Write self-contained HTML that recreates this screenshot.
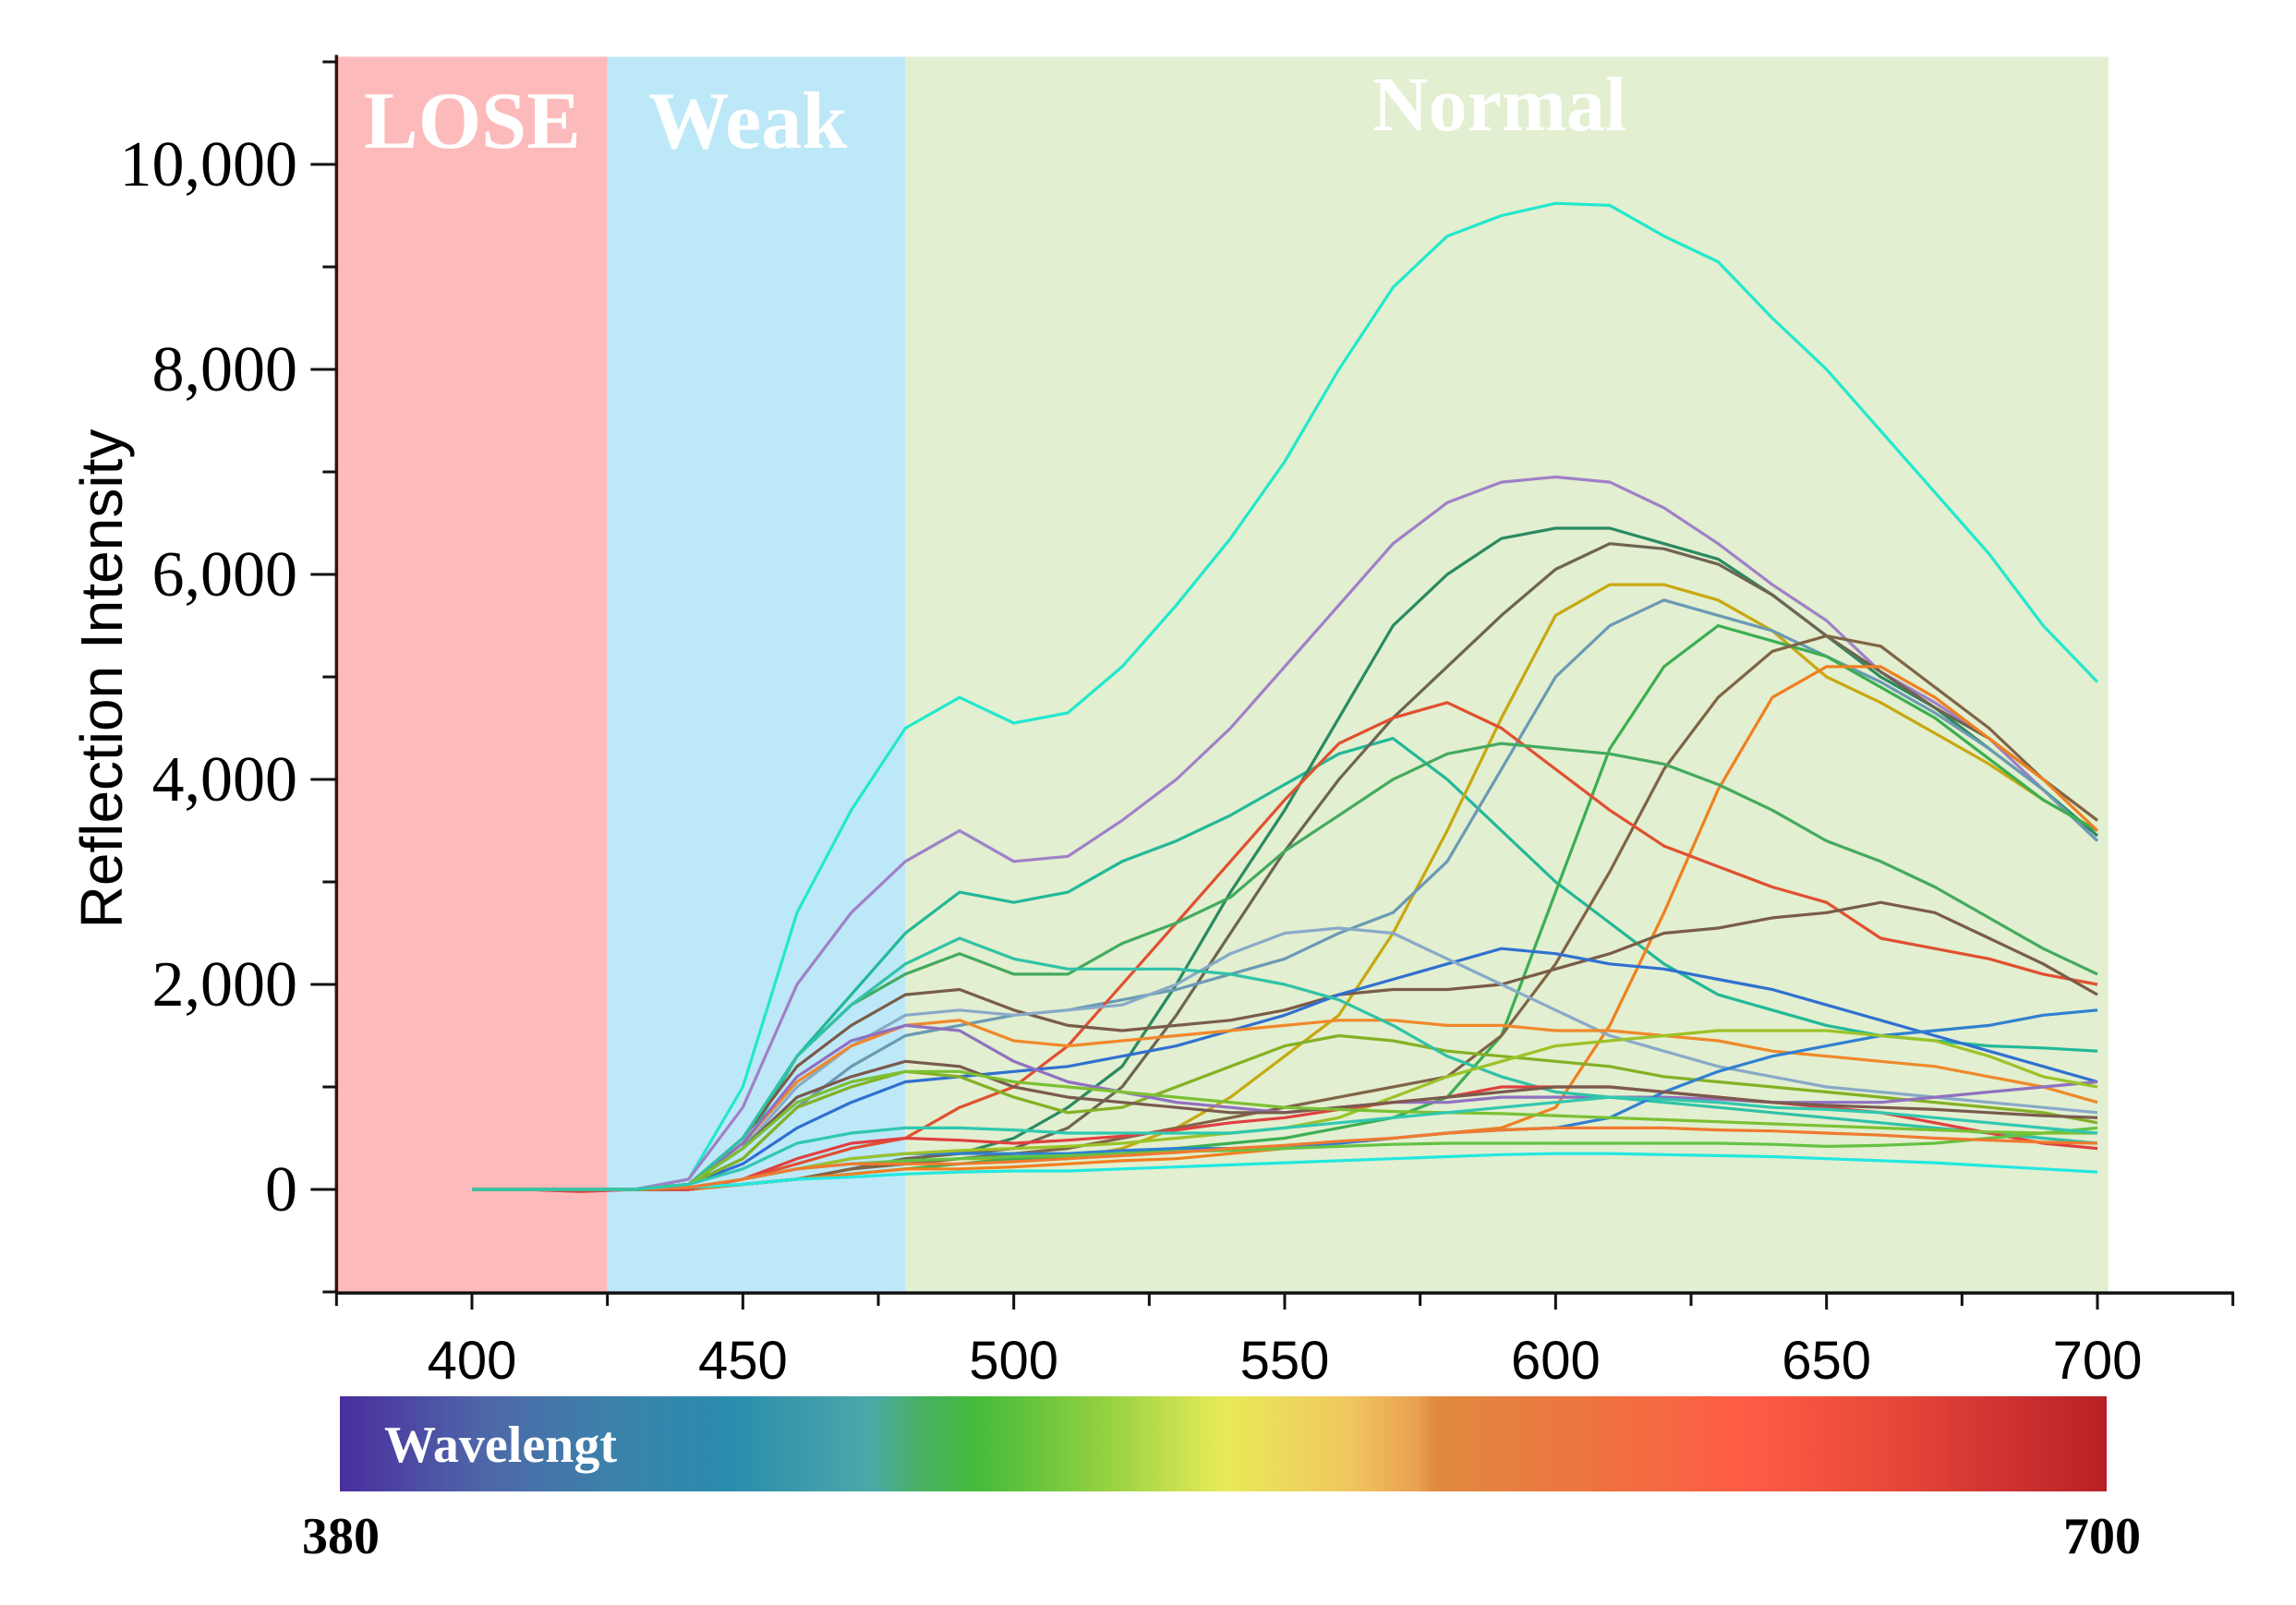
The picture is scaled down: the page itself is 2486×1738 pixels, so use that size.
<!DOCTYPE html>
<html><head><meta charset="utf-8"><style>
html,body{margin:0;padding:0;background:#fff;}
svg{display:block;}
</style></head><body>
<svg id="chart" width="2486" height="1738" viewBox="0 0 2486 1738" xmlns="http://www.w3.org/2000/svg">
<defs>
<linearGradient id="spec" x1="0" x2="1" y1="0" y2="0">
<stop offset="0" stop-color="#4a2d9e"/><stop offset="0.08" stop-color="#4e66a8"/><stop offset="0.16" stop-color="#3a84aa"/>
<stop offset="0.22" stop-color="#2a8cae"/><stop offset="0.30" stop-color="#4ba8a8"/><stop offset="0.33" stop-color="#48b060"/>
<stop offset="0.36" stop-color="#44bb3a"/><stop offset="0.43" stop-color="#90d040"/><stop offset="0.50" stop-color="#e8ea58"/>
<stop offset="0.57" stop-color="#f0c860"/><stop offset="0.61" stop-color="#eaa050"/><stop offset="0.62" stop-color="#e08a40"/>
<stop offset="0.72" stop-color="#f07040"/><stop offset="0.80" stop-color="#ff5a45"/><stop offset="0.87" stop-color="#ea4a3a"/>
<stop offset="0.95" stop-color="#cc3030"/><stop offset="1" stop-color="#b82025"/>
</linearGradient>
</defs>
<g id="bands"></g>
<g id="lines"></g>
<g id="axes"></g>
<text x="0" y="0" transform="translate(132,735) rotate(-90)" text-anchor="middle" font-family="Liberation Sans, sans-serif" font-size="64" fill="#000">Reflection Intensity</text>
<rect x="368" y="1512" width="1913" height="103" fill="url(#spec)"/>
<text x="416" y="1583" font-family="Liberation Serif, serif" font-weight="bold" font-size="56" fill="#fff">Wavelengt</text>
<text x="369" y="1682" text-anchor="middle" font-family="Liberation Serif, serif" font-weight="bold" font-size="56" fill="#000">380</text>
<text x="2276" y="1682" text-anchor="middle" font-family="Liberation Serif, serif" font-weight="bold" font-size="56" fill="#000">700</text>
</svg>
<script>
const wavelengths = [400,410,420,430,440,450,460,470,480,490,500,510,520,530,540,550,560,570,580,590,600,610,620,630,640,650,660,670,680,690,700];
const yTicks = [0,2,4,6,8,10];
const yTickLabels = ["0","2,000","4,000","6,000","8,000","10,000"];
const xTicks = [400,450,500,550,600,650,700];
const bandStarts = [375,425,480];
const bandEnds = [425,480,702];
const bandNames = ["LOSE","Weak","Normal"];
const bandColors = ["#fdbaba","#bde8f8","#e2efd0"];
const seriesColors = ["#22e8cc","#a080c8","#22b898","#2a8a60","#6e6452","#c8a810","#6a9ab4","#3cae52","#806446","#f08020","#e05030","#44aa5e","#7a5c48","#3070d0","#88aac8","#f0882a","#84b024","#9070c0","#30c2a8","#3080d0","#9cc228","#e04040","#22e8e0","#64c244","#f07a30","#7a5a4e","#7cc034","#30c8b0"];
const s1=[0,0,0,0,0.1,1.0,2.7,3.7,4.5,4.8,4.55,4.65,5.1,5.7,6.35,7.1,8.0,8.8,9.3,9.5,9.62,9.6,9.3,9.05,8.5,8.0,7.4,6.8,6.2,5.5,4.95];
const s2=[0,0,0,0,0.1,0.8,2.0,2.7,3.2,3.5,3.2,3.25,3.6,4.0,4.5,5.1,5.7,6.3,6.7,6.9,6.95,6.9,6.65,6.3,5.9,5.55,5.05,4.75,4.4,3.9,3.4];
const s3=[0,0,0,0,0.05,0.4,1.3,1.9,2.5,2.9,2.8,2.9,3.2,3.4,3.65,3.95,4.25,4.4,4.0,3.5,3.0,2.6,2.2,1.9,1.75,1.6,1.5,1.45,1.4,1.38,1.35];
const s4=[0,0,0,0,0,0.05,0.1,0.2,0.3,0.35,0.5,0.8,1.2,2.0,2.9,3.7,4.6,5.5,6.0,6.35,6.45,6.45,6.3,6.15,5.8,5.4,5.0,4.7,4.3,3.9,3.45];
const s5=[0,0,0,0,0,0.05,0.1,0.2,0.3,0.35,0.4,0.6,1.0,1.7,2.5,3.3,4.0,4.6,5.1,5.6,6.05,6.3,6.25,6.1,5.8,5.4,5.05,4.7,4.4,4.0,3.6];
const s6=[0,0,0,0,0,0.05,0.1,0.2,0.25,0.3,0.3,0.3,0.4,0.6,0.9,1.3,1.7,2.5,3.5,4.6,5.6,5.9,5.9,5.75,5.45,5.0,4.75,4.45,4.15,3.8,3.5];
const s7=[0,0,0,0,0.05,0.3,0.8,1.2,1.5,1.6,1.7,1.75,1.85,1.95,2.1,2.25,2.5,2.7,3.2,4.1,5.0,5.5,5.75,5.6,5.45,5.2,4.95,4.65,4.3,3.9,3.4];
const s8=[0,0,0,0,0,0.05,0.1,0.15,0.2,0.25,0.3,0.3,0.35,0.4,0.45,0.5,0.6,0.7,0.9,1.5,2.9,4.3,5.1,5.5,5.35,5.2,4.9,4.6,4.2,3.8,3.5];
const s9=[0,0,0,0,0,0.05,0.1,0.2,0.25,0.3,0.35,0.4,0.5,0.6,0.7,0.8,0.9,1.0,1.1,1.5,2.2,3.1,4.1,4.8,5.25,5.4,5.3,4.9,4.5,4.0,3.6];
const s10=[0,0,0,0,0,0.05,0.1,0.15,0.2,0.2,0.22,0.25,0.28,0.3,0.35,0.4,0.45,0.5,0.55,0.6,0.8,1.6,2.7,3.9,4.8,5.1,5.1,4.8,4.4,4.0,3.5];
const s11=[0,0,-0.02,0,0,0.1,0.25,0.4,0.5,0.8,1.0,1.4,2.0,2.6,3.2,3.8,4.35,4.6,4.75,4.5,4.1,3.7,3.35,3.15,2.95,2.8,2.45,2.35,2.25,2.1,2.0];
const s12=[0,0,0,0,0.05,0.5,1.3,1.8,2.1,2.3,2.1,2.1,2.4,2.6,2.85,3.3,3.65,4.0,4.25,4.35,4.3,4.25,4.15,3.95,3.7,3.4,3.2,2.95,2.65,2.35,2.1];
const s13=[0,0,0,0,0.05,0.5,1.2,1.6,1.9,1.95,1.75,1.6,1.55,1.6,1.65,1.75,1.9,1.95,1.95,2.0,2.15,2.3,2.5,2.55,2.65,2.7,2.8,2.7,2.45,2.2,1.9];
const s14=[0,0,0,0,0.05,0.25,0.6,0.85,1.05,1.1,1.15,1.2,1.3,1.4,1.55,1.7,1.9,2.05,2.2,2.35,2.3,2.2,2.15,2.05,1.95,1.8,1.65,1.5,1.35,1.2,1.05];
const s15=[0,0,0,0,0.05,0.4,1.0,1.4,1.7,1.75,1.7,1.75,1.8,2.0,2.3,2.5,2.55,2.5,2.25,2.0,1.75,1.5,1.35,1.2,1.1,1.0,0.95,0.9,0.85,0.8,0.75];
const s16=[0,0,0,0,0.05,0.45,1.05,1.4,1.6,1.65,1.45,1.4,1.45,1.5,1.55,1.6,1.65,1.65,1.6,1.6,1.55,1.55,1.5,1.45,1.35,1.3,1.25,1.2,1.1,1.0,0.85];
const s17=[0,0,0,0,0.05,0.3,0.8,1.0,1.15,1.1,0.9,0.75,0.8,1.0,1.2,1.4,1.5,1.45,1.35,1.3,1.25,1.2,1.1,1.05,1.0,0.95,0.9,0.85,0.8,0.75,0.65];
const s18=[0,0,0,0,0.05,0.45,1.1,1.45,1.6,1.55,1.25,1.05,0.95,0.85,0.8,0.75,0.8,0.85,0.85,0.9,0.9,0.9,0.9,0.88,0.85,0.85,0.85,0.9,0.95,1.0,1.05];
const s19=[0,0,0,0,0.05,0.5,1.3,1.8,2.2,2.45,2.25,2.15,2.15,2.15,2.1,2.0,1.85,1.6,1.3,1.1,0.95,0.9,0.85,0.8,0.75,0.7,0.65,0.6,0.55,0.5,0.45];
const s20=[0,0,0,0,0,0.1,0.2,0.3,0.35,0.35,0.35,0.35,0.38,0.4,0.4,0.42,0.45,0.5,0.55,0.58,0.6,0.7,0.95,1.15,1.3,1.4,1.5,1.55,1.6,1.7,1.75];
const s21=[0,0,0,0,0,0.1,0.2,0.3,0.35,0.38,0.4,0.42,0.45,0.5,0.55,0.6,0.7,0.9,1.1,1.25,1.4,1.45,1.5,1.55,1.55,1.55,1.5,1.45,1.3,1.1,1.0];
const s22=[0,0,-0.02,0,0,0.1,0.3,0.45,0.5,0.48,0.45,0.48,0.52,0.58,0.65,0.7,0.78,0.85,0.9,1.0,1.0,1.0,0.95,0.9,0.85,0.8,0.75,0.65,0.55,0.45,0.4];
const s23=[0,0,0,0,0.02,0.05,0.1,0.12,0.15,0.17,0.18,0.18,0.2,0.22,0.24,0.26,0.28,0.3,0.32,0.34,0.35,0.35,0.34,0.33,0.32,0.3,0.28,0.26,0.23,0.2,0.17];
const s24=[0,0,0,0,0.02,0.1,0.2,0.25,0.28,0.3,0.32,0.33,0.35,0.37,0.38,0.4,0.42,0.44,0.45,0.45,0.45,0.45,0.45,0.45,0.44,0.42,0.43,0.45,0.5,0.55,0.6];
const s25=[0,0,0,0,0.02,0.1,0.2,0.25,0.25,0.25,0.27,0.3,0.33,0.36,0.4,0.43,0.47,0.5,0.55,0.58,0.6,0.6,0.6,0.58,0.57,0.55,0.53,0.5,0.48,0.46,0.45];
const s26=[0,0,0,0,0.05,0.4,0.9,1.1,1.25,1.2,1.0,0.9,0.85,0.8,0.75,0.75,0.8,0.85,0.9,0.95,1.0,1.0,0.95,0.9,0.85,0.82,0.8,0.78,0.75,0.72,0.7];
const s27=[0,0,0,0,0.05,0.4,0.85,1.05,1.15,1.15,1.05,1.0,0.95,0.9,0.85,0.8,0.78,0.76,0.75,0.74,0.72,0.7,0.68,0.66,0.64,0.62,0.6,0.58,0.56,0.55,0.55];
const s28=[0,0,0,0,0.05,0.2,0.45,0.55,0.6,0.6,0.58,0.55,0.55,0.55,0.55,0.6,0.65,0.7,0.75,0.8,0.85,0.9,0.88,0.85,0.8,0.78,0.75,0.7,0.65,0.6,0.55];
const seriesList=[s1,s2,s3,s4,s5,s6,s7,s8,s9,s10,s11,s12,s13,s14,s15,s16,s17,s18,s19,s20,s21,s22,s23,s24,s25,s26,s27,s28];

const NS="http://www.w3.org/2000/svg";
const X0=511, X1=2271, XV0=400, XV1=700;
const Y0=1288, Y10=178;
function xs(v){return X0+(v-XV0)*(X1-X0)/(XV1-XV0);}
function ys(v){return Y0+(v-0)*(Y10-Y0)/10;}
const yTop=ys(11.05), yBot=ys(-1.01);
function mk(tag,attrs,parent){const e=document.createElementNS(NS,tag);for(const k in attrs)e.setAttribute(k,attrs[k]);parent.appendChild(e);return e;}

const bands=document.getElementById('bands');
bandStarts.forEach((b,i)=>{
  const r=mk('rect',{x:xs(b),y:yTop,width:xs(bandEnds[i])-xs(b),height:yBot-yTop,fill:bandColors[i]},bands);
  
  
});
const labelPos=[[394,160,88],[702,160,88],[1486,141,84]];
bandNames.forEach((n,i)=>{
  const t=mk('text',{x:labelPos[i][0],y:labelPos[i][1],'font-family':'Liberation Serif, serif','font-weight':'bold','font-size':labelPos[i][2],fill:'#fff'},bands);
  t.textContent=n;
  
  
});

const lines=document.getElementById('lines');
seriesList.forEach((s,i)=>{
  const pts=s.map((v,j)=>xs(wavelengths[j]).toFixed(1)+','+ys(v).toFixed(1)).join(' ');
  const p=mk('polyline',{points:pts,fill:'none',stroke:seriesColors[i],'stroke-width':3.2,'stroke-linejoin':'round'},lines);
  
  
});

const ax=document.getElementById('axes');
const axX=xs(375);
const yl=mk('line',{x1:axX,y1:yTop-2,x2:axX,y2:yBot,stroke:'#3a1010','stroke-width':3.5},ax);


const xl=mk('line',{x1:axX,y1:yBot,x2:2419,y2:yBot,stroke:'#111','stroke-width':3.5},ax);


for(let v=-1;v<=11;v++){
  const major=yTicks.indexOf(v)>=0;
  const t=mk('line',{x1:axX-(major?28:15),y1:ys(v),x2:axX,y2:ys(v),stroke:'#111','stroke-width':3},ax);
  
  
}
yTicks.forEach((v,i)=>{
  const t=mk('text',{x:322,y:ys(v)+23,'text-anchor':'end','font-family':'Liberation Serif, serif','font-size':70,fill:'#000'},ax);
  t.textContent=yTickLabels[i];
  
  
});
for(let v=375;v<=725;v+=25){
  const major=xTicks.indexOf(v)>=0;
  const t=mk('line',{x1:xs(v),y1:yBot,x2:xs(v),y2:yBot+(major?18:14),stroke:'#111','stroke-width':3},ax);
  
  
}
xTicks.forEach(v=>{
  const t=mk('text',{x:xs(v),y:1493,'text-anchor':'middle','font-family':'Liberation Sans, sans-serif','font-size':58,fill:'#000'},ax);
  t.textContent=String(v);
  
  
});
</script>
</body></html>
